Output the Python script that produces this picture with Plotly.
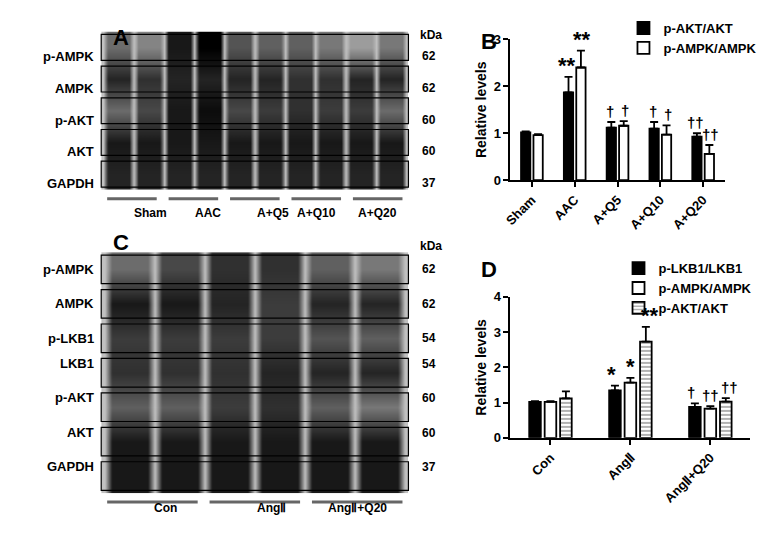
import plotly.graph_objects as go

W, H = 777, 538
OFF = 8
def px(x): return (x - OFF) / W
def py(y): return 1 - (y - OFF) / H

# ---------- Data ----------
rowsA = ["p-AMPK", "AMPK", "p-AKT", "AKT", "GAPDH"]
kdaA = ["62", "62", "60", "60", "37"]
bandsA = [
    [0.55, 0.45, 0.9, 1.0, 0.65, 0.6, 0.6, 0.5, 0.35, 0.5],
    [0.85, 0.8, 0.85, 0.85, 0.85, 0.85, 0.8, 0.8, 0.85, 0.85],
    [0.55, 0.7, 0.9, 0.95, 0.7, 0.75, 0.8, 0.75, 0.75, 0.55],
    [0.9, 0.9, 0.9, 0.9, 0.9, 0.9, 0.9, 0.9, 0.9, 0.9],
    [0.85, 0.85, 0.85, 0.85, 0.85, 0.85, 0.85, 0.85, 0.85, 0.85],
]
groupsA = ["Sham", "AAC", "A+Q5", "A+Q10", "A+Q20"]

rowsC = ["p-AMPK", "AMPK", "p-LKB1", "LKB1", "p-AKT", "AKT", "GAPDH"]
kdaC = ["62", "62", "54", "54", "60", "60", "37"]
bandsC = [
    [0.55, 0.7, 0.8, 0.8, 0.6, 0.5],
    [0.9, 0.9, 0.85, 0.75, 0.85, 0.85],
    [0.75, 0.75, 0.75, 0.75, 0.65, 0.6],
    [0.8, 0.8, 0.8, 0.85, 0.85, 0.85],
    [0.6, 0.6, 0.75, 0.8, 0.6, 0.5],
    [0.9, 0.9, 0.9, 0.9, 0.9, 0.9],
    [0.9, 0.9, 0.9, 0.9, 0.9, 0.9],
]
groupsC = ["Con", "AngⅡ", "AngⅡ+Q20"]

catB = ["Sham", "AAC", "A+Q5", "A+Q10", "A+Q20"]
aktB = [1.02, 1.87, 1.12, 1.10, 0.93]
aktB_err = [0.02, 0.33, 0.12, 0.14, 0.07]
ampkB = [0.96, 2.40, 1.16, 0.97, 0.56]
ampkB_err = [0.02, 0.36, 0.10, 0.20, 0.19]
aktB_sig = ["", "**", "†", "†", "††"]
ampkB_sig = ["", "**", "†", "†", "††"]

catD = ["Con", "AngⅡ", "AngⅡ+Q20"]
lkbD = [1.02, 1.35, 0.88]
lkbD_err = [0.02, 0.13, 0.10]
ampkD = [1.02, 1.57, 0.83]
ampkD_err = [0.02, 0.13, 0.07]
aktD = [1.12, 2.73, 1.03]
aktD_err = [0.20, 0.42, 0.10]
lkbD_sig = ["", "*", "†"]
ampkD_sig = ["", "*", "††"]
aktD_sig = ["", "**", "††"]

fig = go.Figure()
shapes, ann = [], []

def blot(rows, bands, kda, groups, xa, ya, x0, x1, y0, y1, linesy):
    z = []
    for r in bands:
        row = []
        for v in r:
            row += [0.2, v, v, v, v, v, v]
        row.append(0.2)
        z.append(row)
    fig.add_trace(go.Heatmap(z=z, xaxis=xa, yaxis=ya, zmin=0, zmax=1, showscale=False,
                             colorscale=[[0, "#f2f2f2"], [0.3, "#a8a8a8"], [1, "#000000"]],
                             ygap=6, zsmooth="best", hoverinfo="skip"))
    n = len(rows)
    rh = (y1 - y0) / n
    for i, (lab, k) in enumerate(zip(rows, kda)):
        yc = y0 + rh * (i + 0.5)
        shapes.append(dict(type="rect", xref="paper", yref="paper", x0=px(x0), x1=px(x1),
                           y0=py(y0 + rh * i + 3), y1=py(y0 + rh * (i + 1) - 3),
                           line=dict(color="black", width=1.2)))
        ann.append(dict(x=px(x0 - 5), y=py(yc), xref="paper", yref="paper", text=f"<b>{lab}</b>",
                        xanchor="right", showarrow=False, font=dict(size=13)))
        ann.append(dict(x=px(x1 + 12), y=py(yc), xref="paper", yref="paper", text=f"<b>{k}</b>",
                        xanchor="left", showarrow=False, font=dict(size=12)))
    ann.append(dict(x=px(x1 + 10), y=py(y0 - 6), xref="paper", yref="paper", text="<b>kDa</b>",
                    xanchor="left", showarrow=False, font=dict(size=12)))
    ng = len(groups)
    gw = (x1 - x0) / ng
    for j, g in enumerate(groups):
        shapes.append(dict(type="line", xref="paper", yref="paper",
                           x0=px(x0 + gw * j + 6), x1=px(x0 + gw * (j + 1) - 6),
                           y0=py(linesy), y1=py(linesy), line=dict(color="#666", width=3)))
        ann.append(dict(x=px(x0 + gw * (j + 0.5)), y=py(linesy + 15), xref="paper", yref="paper",
                        text=f"<b>{g}</b>", showarrow=False, font=dict(size=12)))

blot(rowsA, bandsA, kdaA, groupsA, "x", "y", 95, 405, 25, 188, 197)
blot(rowsC, bandsC, kdaC, groupsC, "x2", "y2", 95, 405, 252, 500, 509)

def dom(x0, x1): return [px(x0), px(x1)]
blank = dict(visible=False, fixedrange=True)
fig.update_layout(
    xaxis=dict(domain=dom(95, 405), **blank),
    yaxis=dict(domain=[py(188), py(25)], autorange="reversed", **blank),
    xaxis2=dict(domain=dom(95, 405), anchor="y2", **blank),
    yaxis2=dict(domain=[py(500), py(252)], anchor="x2", autorange="reversed", **blank),
)

def bar(x, y, e, name, fill, xa, ya, legend, pattern=None):
    fig.add_trace(go.Bar(x=x, y=y, name=f"<b>{name}</b>", xaxis=xa, yaxis=ya, legend=legend,
                         marker=dict(color=fill, line=dict(color="black", width=1.8),
                                     pattern=dict(shape=pattern, fgcolor="black", size=4, solidity=0.3) if pattern else None),
                         error_y=dict(type="data", array=e, arrayminus=[0] * len(e), symmetric=False,
                                      color="black", thickness=1.8, width=4)))

bar(catB, aktB, aktB_err, "p-AKT/AKT", "black", "x3", "y3", "legend")
bar(catB, ampkB, ampkB_err, "p-AMPK/AMPK", "white", "x3", "y3", "legend")
bar(catD, lkbD, lkbD_err, "p-LKB1/LKB1", "black", "x4", "y4", "legend2")
bar(catD, ampkD, ampkD_err, "p-AMPK/AMPK", "white", "x4", "y4", "legend2")
bar(catD, aktD, aktD_err, "p-AKT/AKT", "white", "x4", "y4", "legend2", pattern="-")

def sig(vals, errs, texts, offs, xa, ya):
    for i, (v, e, t) in enumerate(zip(vals, errs, texts)):
        if t:
            ann.append(dict(x=i + offs, y=v + e, xref=xa, yref=ya, text=f"<b>{t}</b>", showarrow=False,
                            yanchor="bottom", yshift=-3 if "*" in t else 0,
                            font=dict(size=22 if "*" in t else 15)))

sig(aktB, aktB_err, aktB_sig, -0.17, "x3", "y3")
sig(ampkB, ampkB_err, ampkB_sig, 0.17, "x3", "y3")
sig(lkbD, lkbD_err, lkbD_sig, -0.24, "x4", "y4")
sig(ampkD, ampkD_err, ampkD_sig, 0.0, "x4", "y4")
sig(aktD, aktD_err, aktD_sig, 0.24, "x4", "y4")

axstyle = dict(showline=True, linecolor="black", linewidth=2, ticks="outside", tickcolor="black",
               tickwidth=2, ticklen=5, showgrid=False, zeroline=False, tickfont=dict(size=13, color="black"))
fig.update_layout(
    xaxis3=dict(domain=dom(508, 724), anchor="y3", tickangle=-45, tickvals=catB,
                ticktext=[f"<b>{c}</b>" for c in catB], **axstyle),
    yaxis3=dict(domain=[py(178), py(33)], anchor="x3", range=[0, 3], dtick=1,
                tickvals=[0, 1, 2, 3], ticktext=["<b>0</b>", "<b>1</b>", "<b>2</b>", "<b>3</b>"],
                title=dict(text="<b>Relative levels</b>", font=dict(size=14), standoff=4), **axstyle),
    xaxis4=dict(domain=dom(508, 750), anchor="y4", tickangle=-45, tickvals=catD,
                ticktext=[f"<b>{c}</b>" for c in catD], **axstyle),
    yaxis4=dict(domain=[py(443), py(298)], anchor="x4", range=[0, 4], dtick=1,
                tickvals=[0, 1, 2, 3, 4], ticktext=["<b>0</b>", "<b>1</b>", "<b>2</b>", "<b>3</b>", "<b>4</b>"],
                title=dict(text="<b>Relative levels</b>", font=dict(size=14), standoff=4), **axstyle),
    barmode="group", bargap=0.42, bargroupgap=0.25,
    legend=dict(x=px(622), y=py(6), xanchor="left", yanchor="top", bgcolor="rgba(0,0,0,0)",
                font=dict(size=13), tracegroupgap=0, itemwidth=30),
    legend2=dict(x=px(617), y=py(253), xanchor="left", yanchor="top", bgcolor="rgba(0,0,0,0)",
                 font=dict(size=13), tracegroupgap=0, itemwidth=30),
)

for t, x, y in [("A", 105, 16), ("B", 486, 20), ("C", 105, 242), ("D", 486, 270)]:
    ann.append(dict(x=px(x), y=py(y), xref="paper", yref="paper", text=f"<b>{t}</b>", showarrow=False,
                    font=dict(size=22, color="black")))

fig.update_layout(shapes=shapes, annotations=ann, width=W, height=H,
                  margin=dict(l=0, r=0, t=0, b=0), plot_bgcolor="white", paper_bgcolor="white",
                  font=dict(family="Liberation Sans, Arial", color="black"))
fig.write_html("out.html")
